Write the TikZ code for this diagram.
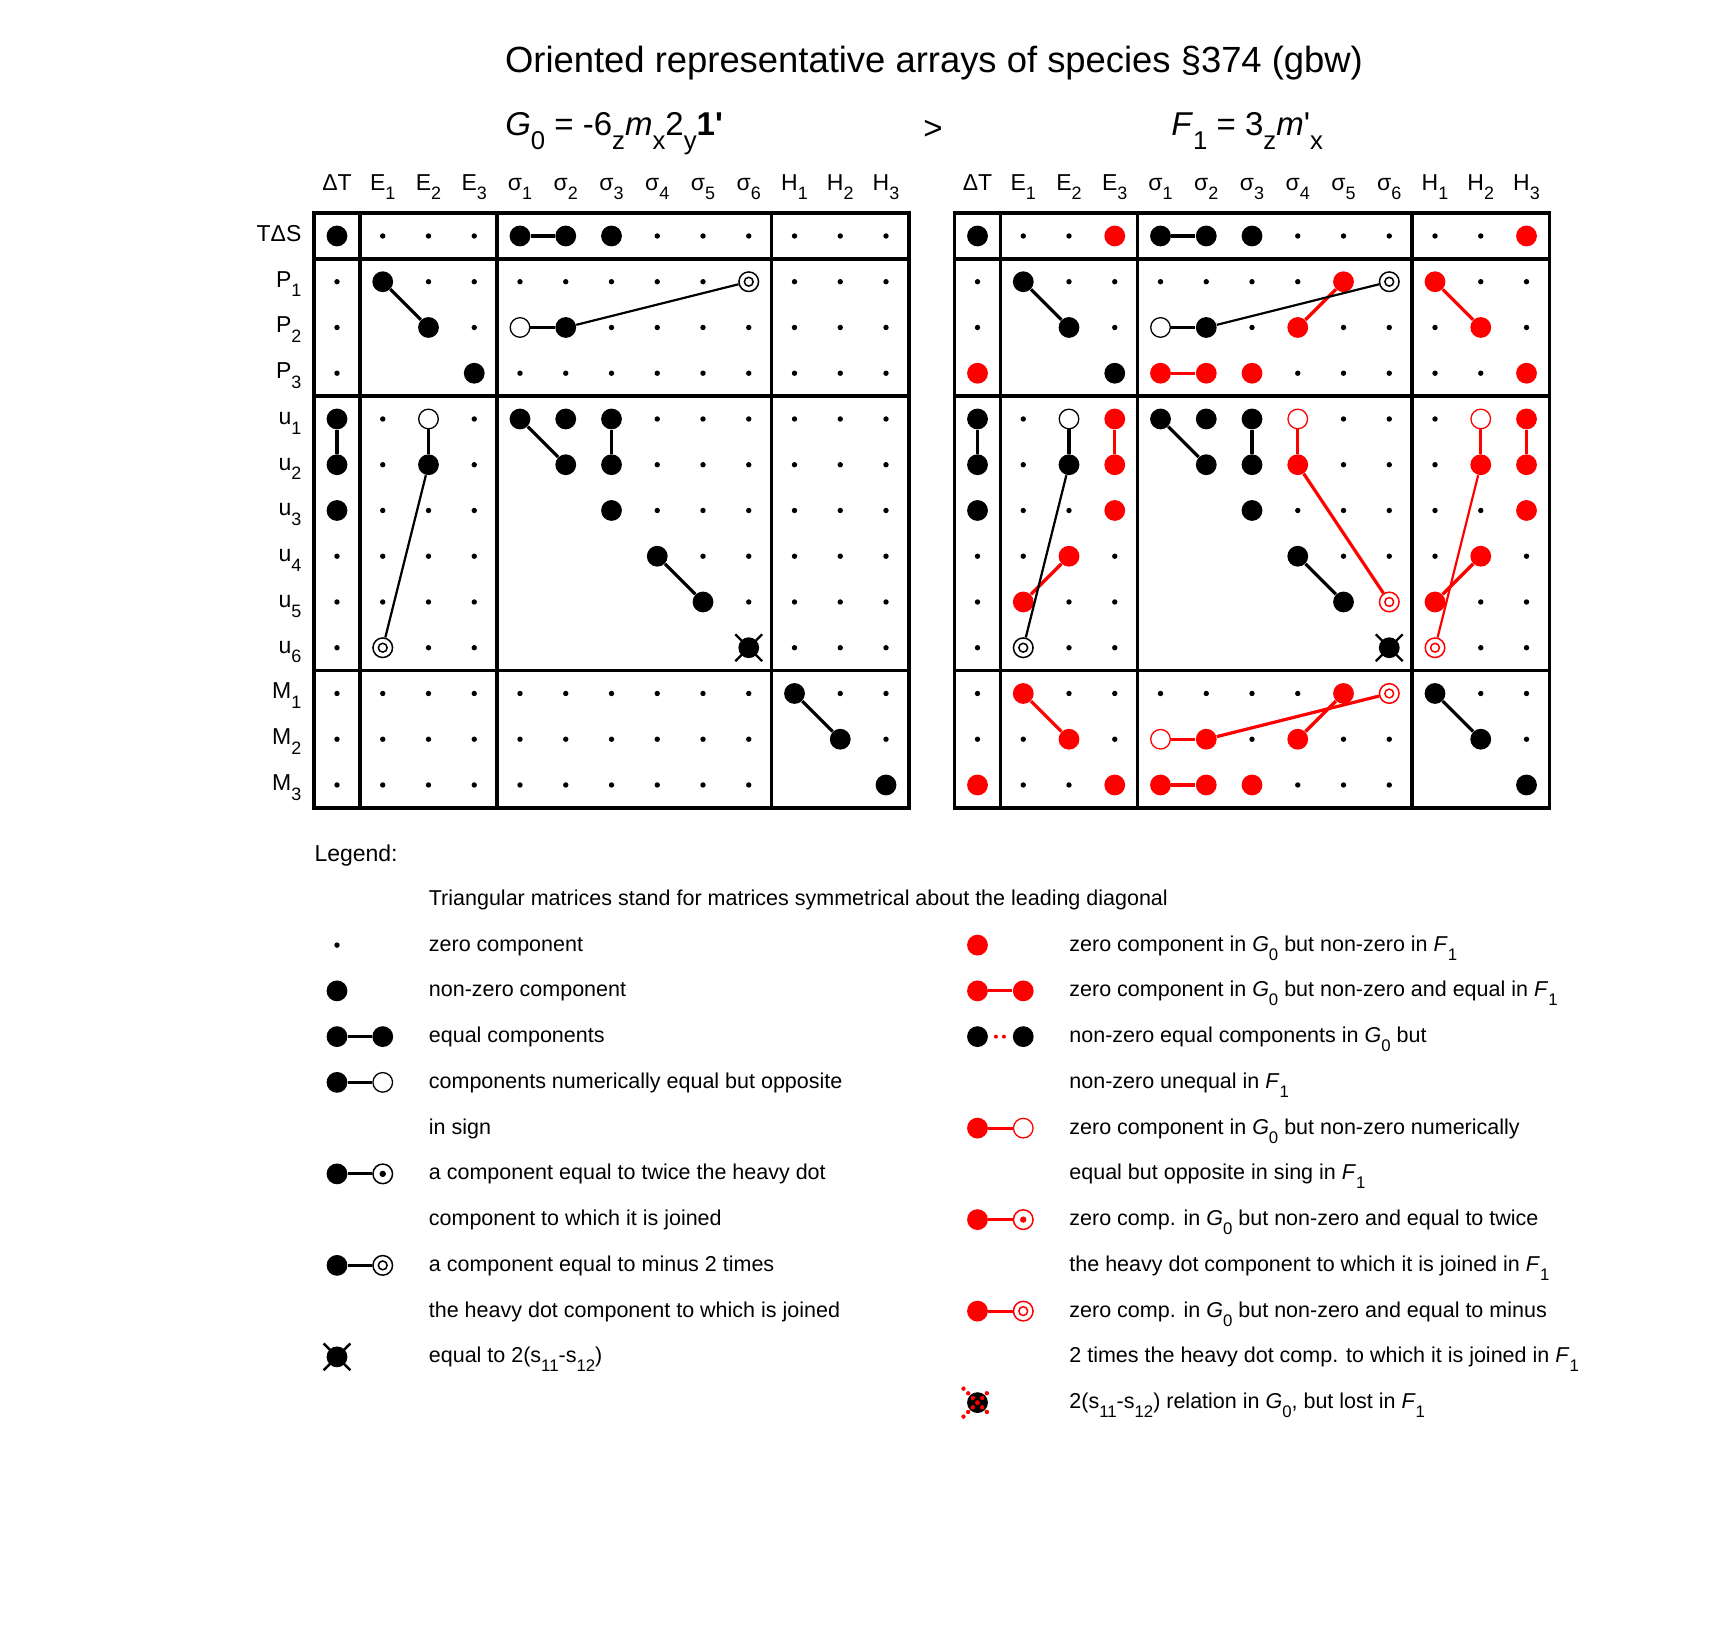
\documentclass[tikz,border=0pt]{standalone}
\usepackage{fontspec}
\setmainfont{Liberation Sans}
\usepackage{graphicx}
\usepackage{tikz}

\newcommand\sub[1]{\raisebox{-.8ex}{\scalebox{.78}{#1}}}
\newcommand\Gnull{\textit{G}\sub{0}}
\newcommand\Fone{\textit{F}\sub{1}}

\begin{document}
\begin{tikzpicture}[x=22.875pt,y=22.875pt,
  zero/.style={circle,fill,inner sep=0pt,minimum size=2.7pt},
  nonzero/.style={circle,fill=#1,inner sep=0pt,minimum size=10.4pt},
  nonzero/.default=black,
  opposite/.style={circle,draw=#1,fill=white,line width=.65pt,inner sep=0pt,minimum size=9.8pt},
  opposite/.default=black,
  twice/.style={circle,draw=#1,fill=white,line width=.75pt,inner sep=0pt,minimum size=9.8pt,
    path picture={\fill[#1] (path picture bounding box.center) circle (1.6pt);}},
  twice/.default=black,
  minustwo/.style={circle,draw=#1,fill=white,line width=.75pt,inner sep=0pt,minimum size=9.8pt,
    path picture={\draw[#1,line width=.75pt] (path picture bounding box.center) circle (2.2pt);}},
  minustwo/.default=black,
  xdot/.style={nonzero,append after command={(\tikzlastnode.center)
    +(-6.7pt,-6.7pt) edge[line width=1.2pt] +(6.7pt,6.7pt)
    +(-6.7pt,6.7pt) edge[line width=1.2pt] +(6.7pt,-6.7pt)}},
  lost/.style={nonzero,append after command={(\tikzlastnode.center)
    +(-7pt,-7pt) edge[red,line width=2.2pt,line cap=round,dash pattern=on 0pt off 3.3pt] +(7pt,7pt)
    +(-7pt,7pt) edge[red,line width=2.2pt,line cap=round,dash pattern=on 0pt off 3.3pt] +(7pt,-7pt)}},
  link/.style={line width=1.6pt},
  longlink/.style={line width=1.1pt},
  arrayline/.style={line width=1.65pt},
  titletext/.style={font=\fontsize{18.2}{22}\selectfont,anchor=base,inner sep=0pt},
  grouptext/.style={font=\fontsize{16.5}{20}\selectfont,anchor=base west,inner sep=0pt},
  colhead/.style={font=\fontsize{11.5}{14}\selectfont,anchor=base,inner sep=0pt},
  rowhead/.style={font=\fontsize{11.5}{14}\selectfont,anchor=base east,inner sep=0pt},
  legtitle/.style={font=\fontsize{11.5}{14}\selectfont,anchor=base west,inner sep=0pt},
  legtext/.style={font=\fontsize{10.75}{13}\selectfont,anchor=base west,inner sep=0pt}]
\useasboundingbox (-7.366,5.158) rectangle (30.12,-30.383);

% headings
\node[titletext] (title) at (13.05,3.58) {Oriented representative arrays of species §374 (gbw)};
\node[grouptext] (gname) at (3.67,2.19) {\Gnull\ = -6\sub{z}\textit{m}\sub{x}2\sub{y}\textbf{1\textquotesingle}};
\node[titletext,font=\fontsize{16.5}{20}\selectfont] (gt) at (13.03,2.1) {>};
\node[grouptext] (fname) at (18.23,2.19) {\Fone\ = 3\sub{z}\textit{m}\textquotesingle\sub{x}};

\foreach \lab [count=\c] in {ΔT,E\sub1,E\sub2,E\sub3,σ\sub1,σ\sub2,σ\sub3,σ\sub4,σ\sub5,σ\sub6,H\sub1,H\sub2,H\sub3}{
  \node[colhead] (gcol\c) at (\c-1,1) {\lab};
  \node[colhead] (fcol\c) at (\c+13,1) {\lab};
}
\foreach \lab [count=\r] in {TΔS,P\sub1,P\sub2,P\sub3,u\sub1,u\sub2,u\sub3,u\sub4,u\sub5,u\sub6,M\sub1,M\sub2,M\sub3}
  \node[rowhead] (row\r) at (-0.77,0.88-\r) {\lab};

% block lines
\foreach \dx in {0,14}{
  \draw[arrayline] (\dx-0.5,0.5) rectangle (\dx+12.5,-12.5);
  \foreach \a in {0.5,3.5,9.5}{
    \draw[arrayline] (\dx+\a,0.5) -- (\dx+\a,-12.5);
    \draw[arrayline] (\dx-0.5,-\a) -- (\dx+12.5,-\a);
  }
}

% G_0 array
\foreach \r/\c in {1/1,1/5,1/6,1/7,2/2,3/3,3/6,4/4,5/1,6/1,7/1,6/3,5/5,5/6,6/6,5/7,6/7,7/7,8/8,9/9,11/11,12/12,13/13}
  \node[nonzero] (g\r-\c) at (\c-1,1-\r) {};
\foreach \r/\c in {3/5,5/3}
  \node[opposite] (g\r-\c) at (\c-1,1-\r) {};
\node[minustwo] (g2-10) at (9,-1) {};
\node[minustwo] (g10-2) at (1,-9) {};
\node[xdot] (g10-10) at (9,-9) {};

% F_1 array
\foreach \r/\c in {1/1,1/5,1/6,1/7,2/2,3/3,3/6,4/4,5/1,6/1,7/1,6/3,5/5,5/6,6/6,5/7,6/7,7/7,8/8,9/9,11/11,12/12,13/13}
  \node[nonzero] (f\r-\c) at (\c+13,1-\r) {};
\foreach \r/\c in {3/5,5/3}
  \node[opposite] (f\r-\c) at (\c+13,1-\r) {};
\node[minustwo] (f2-10) at (23,-1) {};
\node[minustwo] (f10-2) at (15,-9) {};
\node[xdot] (f10-10) at (23,-9) {};
\foreach \r/\c in {1/4,1/13,2/9,2/11,3/8,3/12,4/1,4/5,4/6,4/7,4/13,5/4,6/4,7/4,8/3,9/2,5/13,6/8,6/12,6/13,7/13,8/12,9/11,11/2,12/3,13/1,13/4,11/9,12/6,12/8,13/5,13/6,13/7}
  \node[nonzero=red] (f\r-\c) at (\c+13,1-\r) {};
\foreach \r/\c in {5/8,5/12,12/5}
  \node[opposite=red] (f\r-\c) at (\c+13,1-\r) {};
\foreach \r/\c in {9/10,10/11,11/10}
  \node[minustwo=red] (f\r-\c) at (\c+13,1-\r) {};

% zero components (lower triangles of the diagonal blocks left out)
\foreach \r in {1,...,13}
  \foreach \c in {1,...,13}{
    \pgfmathtruncatemacro\isblank{and((\r>1)+(\r>4)+(\r>10)==(\c>1)+(\c>4)+(\c>10),\c<\r)}
    \ifnum\isblank=0
      \ifcsname pgf@sh@ns@g\r-\c\endcsname\else\node[zero] (g\r-\c) at (\c-1,1-\r) {};\fi
      \ifcsname pgf@sh@ns@f\r-\c\endcsname\else\node[zero] (f\r-\c) at (\c+13,1-\r) {};\fi
    \fi
  }

% links
\draw[link] (g1-5) -- (g1-6);
\draw[link] (g2-2) -- (g3-3);
\draw[link] (g3-5) -- (g3-6);
\draw[longlink] (g3-6) -- (g2-10);
\draw[link] (g5-1) -- (g6-1);
\draw[link] (g5-3) -- (g6-3);
\draw[longlink] (g6-3) -- (g10-2);
\draw[link] (g5-5) -- (g6-6);
\draw[link] (g5-7) -- (g6-7);
\draw[link] (g8-8) -- (g9-9);
\draw[link] (g11-11) -- (g12-12);

\draw[link,red] (f2-9) -- (f3-8);
\draw[link,red] (f2-11) -- (f3-12);
\draw[link,red] (f4-5) -- (f4-6);
\draw[link,red] (f5-4) -- (f6-4);
\draw[link,red] (f8-3) -- (f9-2);
\draw[link,red] (f5-8) -- (f6-8);
\draw[link,red] (f6-8) -- (f9-10);
\draw[link,red] (f5-12) -- (f6-12);
\draw[longlink,red] (f6-12) -- (f10-11);
\draw[link,red] (f5-13) -- (f6-13);
\draw[link,red] (f8-12) -- (f9-11);
\draw[link,red] (f11-2) -- (f12-3);
\draw[link,red] (f12-5) -- (f12-6);
\draw[link,red] (f12-6) -- (f11-10);
\draw[link,red] (f11-9) -- (f12-8);
\draw[link,red] (f13-5) -- (f13-6);

\draw[link] (f1-5) -- (f1-6);
\draw[link] (f2-2) -- (f3-3);
\draw[link] (f3-5) -- (f3-6);
\draw[longlink] (f3-6) -- (f2-10);
\draw[link] (f5-1) -- (f6-1);
\draw[link] (f5-3) -- (f6-3);
\draw[longlink] (f6-3) -- (f10-2);
\draw[link] (f5-5) -- (f6-6);
\draw[link] (f5-7) -- (f6-7);
\draw[link] (f8-8) -- (f9-9);
\draw[link] (f11-11) -- (f12-12);

% legend
\node[legtitle] (legend) at (-0.5,-13.67) {Legend:};
\node[legtext] (tri) at (2,-14.64) {Triangular matrices stand for matrices symmetrical about the leading diagonal};

\node[zero] (lzero) at (0,-15.5) {};
\node[nonzero] (lnon) at (0,-16.5) {};
\node[nonzero] (leqa) at (0,-17.5) {};
\node[nonzero] (leqb) at (1,-17.5) {};
\node[nonzero] (loppa) at (0,-18.5) {};
\node[opposite] (loppb) at (1,-18.5) {};
\node[nonzero] (ltwa) at (0,-20.5) {};
\node[twice] (ltwb) at (1,-20.5) {};
\node[nonzero] (lmina) at (0,-22.5) {};
\node[minustwo] (lminb) at (1,-22.5) {};
\node[xdot] (lx) at (0,-24.5) {};
\draw[link] (leqa) -- (leqb);
\draw[link] (loppa) -- (loppb);
\draw[link] (ltwa) -- (ltwb);
\draw[link] (lmina) -- (lminb);

\node[legtext] (lt1) at (2,-15.63) {zero component};
\node[legtext] (lt2) at (2,-16.63) {non-zero component};
\node[legtext] (lt3) at (2,-17.63) {equal components};
\node[legtext] (lt4) at (2,-18.63) {components numerically equal but opposite};
\node[legtext] (lt5) at (2,-19.63) {in sign};
\node[legtext] (lt6) at (2,-20.63) {a component equal to twice the heavy dot};
\node[legtext] (lt7) at (2,-21.63) {component to which it is joined};
\node[legtext] (lt8) at (2,-22.63) {a component equal to minus 2 times};
\node[legtext] (lt9) at (2,-23.63) {the heavy dot component to which is joined};
\node[legtext] (lt10) at (2,-24.63) {equal to 2(s\sub{11}-s\sub{12})};

\node[nonzero=red] (rnon) at (14,-15.5) {};
\node[nonzero=red] (reqa) at (14,-16.5) {};
\node[nonzero=red] (reqb) at (15,-16.5) {};
\node[nonzero] (rdota) at (14,-17.5) {};
\node[nonzero] (rdotb) at (15,-17.5) {};
\node[nonzero=red] (roppa) at (14,-19.5) {};
\node[opposite=red] (roppb) at (15,-19.5) {};
\node[nonzero=red] (rtwa) at (14,-21.5) {};
\node[twice=red] (rtwb) at (15,-21.5) {};
\node[nonzero=red] (rmina) at (14,-23.5) {};
\node[minustwo=red] (rminb) at (15,-23.5) {};
\node[lost] (rx) at (14,-25.5) {};
\draw[link,red] (reqa) -- (reqb);
\draw[red,line width=2pt,line cap=round,dash pattern=on 0pt off 4pt,shorten <=3.8pt,shorten >=3.8pt] (rdota) -- (rdotb);
\draw[link,red] (roppa) -- (roppb);
\draw[link,red] (rtwa) -- (rtwb);
\draw[link,red] (rmina) -- (rminb);

\node[legtext] (rt1) at (16,-15.63) {zero component in \Gnull\ but non-zero in \Fone};
\node[legtext] (rt2) at (16,-16.63) {zero component in \Gnull\ but non-zero and equal in \Fone};
\node[legtext] (rt3) at (16,-17.63) {non-zero equal components in \Gnull\ but};
\node[legtext] (rt4) at (16,-18.63) {non-zero unequal in \Fone};
\node[legtext] (rt5) at (16,-19.63) {zero component in \Gnull\ but non-zero numerically};
\node[legtext] (rt6) at (16,-20.63) {equal but opposite in sing in \Fone};
\node[legtext] (rt7) at (16,-21.63) {zero comp. in \Gnull\ but non-zero and equal to twice};
\node[legtext] (rt8) at (16,-22.63) {the heavy dot component to which it is joined in \Fone};
\node[legtext] (rt9) at (16,-23.63) {zero comp. in \Gnull\ but non-zero and equal to minus};
\node[legtext] (rt10) at (16,-24.63) {2 times the heavy dot comp. to which it is joined in \Fone};
\node[legtext] (rt11) at (16,-25.63) {2(s\sub{11}-s\sub{12}) relation in \Gnull, but lost in \Fone};
\end{tikzpicture}
\end{document}
